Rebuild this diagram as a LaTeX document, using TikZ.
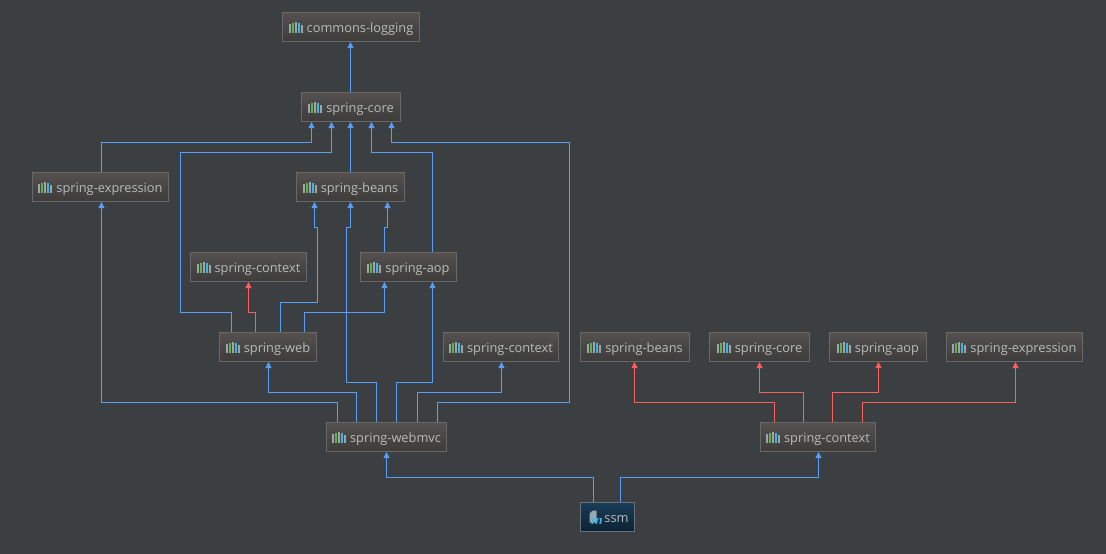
\documentclass[tikz,border=0pt]{standalone}
\usepackage{fontspec}
\setmainfont{Open Sans}
\usetikzlibrary{arrows.meta}
\definecolor{bgc}{HTML}{3C3F41}
\definecolor{lnblue}{HTML}{589DF6}
\definecolor{lnred}{HTML}{FF5E5E}
\definecolor{bordc}{HTML}{686868}
\definecolor{boxtop}{HTML}{54514F}
\definecolor{boxbot}{HTML}{3D3C3B}
\definecolor{txtc}{HTML}{BBBBBB}
\definecolor{igray}{HTML}{9AA7B0}
\definecolor{igreen}{HTML}{62B543}
\definecolor{iblue}{HTML}{40B6E0}
\definecolor{ssmtop}{HTML}{1A3D58}
\definecolor{ssmbot}{HTML}{0B2234}
\definecolor{ssmbord}{HTML}{6A7278}
\newcommand{\libicon}{{\color{igray}\rule{2pt}{9pt}}\hspace{1pt}{\color{igreen}\rule{2pt}{10pt}}\hspace{1pt}{\color{igray}\rule{2pt}{11pt}}\hspace{1pt}{\color{iblue}\rule{2pt}{10pt}}\hspace{1pt}{\color{igray}\rule{2pt}{8pt}}\hspace{4pt}}
\tikzset{
  libbox/.style={draw=bordc, line width=1pt, top color=boxtop, bottom color=boxbot,
    minimum height=29pt, minimum width=#1, inner sep=0pt, text=txtc,
    font=\fontsize{12.8}{14}\selectfont, text height=11pt, text depth=0pt},
  ssmbox/.style={draw=ssmbord, line width=1pt, top color=ssmtop, bottom color=ssmbot,
    minimum height=29pt, minimum width=#1, inner sep=0pt, text=txtc,
    font=\fontsize{12.8}{14}\selectfont, text height=11pt, text depth=0pt},
  bline/.style={draw=lnblue, line width=1pt, -{Triangle[width=6pt,length=6pt]}},
  rline/.style={draw=lnred, line width=1pt, -{Triangle[width=6pt,length=6pt]}}
}
\begin{document}
\begin{tikzpicture}[x=1pt,y=-1pt]
\fill[bgc] (0,0) rectangle (1106,554);
\useasboundingbox (0,0) rectangle (1106,554);
\begin{scope}[shift={(0.5,0.5)}]
% nodes
\node[libbox=137pt] (cl) at (350.5,26.5) {\libicon commons-logging};
\node[libbox=99pt] (core) at (350.5,106.5) {\libicon spring-core};
\node[libbox=136pt] (expr) at (100,186.5) {\libicon spring-expression};
\node[libbox=108pt] (beans) at (350,186.5) {\libicon spring-beans};
\node[libbox=116pt] (ctx1) at (248,266.5) {\libicon spring-context};
\node[libbox=96pt] (aop) at (408,266.5) {\libicon spring-aop};
\node[libbox=97pt] (web) at (267.5,346.5) {\libicon spring-web};
\node[libbox=115pt] (ctx2) at (500.5,346.5) {\libicon spring-context};
\node[libbox=120pt] (webmvc) at (386,436.5) {\libicon spring-webmvc};
\node[libbox=109pt] (beans2) at (634.5,346.5) {\libicon spring-beans};
\node[libbox=100pt] (core2) at (759,346.5) {\libicon spring-core};
\node[libbox=97pt] (aop2) at (877.5,346.5) {\libicon spring-aop};
\node[libbox=136pt] (expr2) at (1014,346.5) {\libicon spring-expression};
\node[libbox=115pt] (ctx3) at (817.5,436.5) {\libicon spring-context};
\node[ssmbox=54pt] (ssm) at (607,516.5) {\hspace{18pt}ssm};
% ssm icon
\fill[igray] (589,522) -- (596,522) -- (596,510) -- (592,510) -- (589,513) -- cycle;
\node[font=\sffamily\bfseries\itshape\fontsize{13}{13}\selectfont, text=iblue, inner sep=0pt, anchor=base west] (ssmm) at (590,524) {m};
% connectors
\draw[bline] (350,0 |- core.north) -- (350,0 |- cl.south);
\draw[bline] (101,0 |- expr.north) |- (311,142) -- (311,0 |- core.south);
\draw[bline] (231,0 |- web.north) |- (180,312) |- (331,152) -- (331,0 |- core.south);
\draw[bline] (350,0 |- beans.north) -- (350,0 |- core.south);
\draw[bline] (432,0 |- aop.north) |- (371,152) -- (371,0 |- core.south);
\draw[bline] (437,0 |- webmvc.north) |- (569,402) |- (391,142) -- (391,0 |- core.south);
\draw[rline] (255,0 |- web.north) |- (248,312) -- (248,0 |- ctx1.south);
\draw[bline] (280,0 |- web.north) |- (317,302) |- (314,227) -- (314,0 |- beans.south);
\draw[bline] (304,0 |- web.north) |- (384,312) -- (384,0 |- aop.south);
\draw[bline] (384,0 |- aop.north) |- (387,227) -- (387,0 |- beans.south);
\draw[bline] (376,0 |- webmvc.north) |- (346,382) |- (350,227) -- (350,0 |- beans.south);
\draw[bline] (396,0 |- webmvc.north) |- (432,382) -- (432,0 |- aop.south);
\draw[bline] (417,0 |- webmvc.north) |- (501,392) -- (501,0 |- ctx2.south);
\draw[bline] (337,0 |- webmvc.north) |- (101,402) -- (101,0 |- expr.south);
\draw[bline] (356,0 |- webmvc.north) |- (268,392) -- (268,0 |- web.south);
\draw[bline] (593,0 |- ssm.north) |- (386,477) -- (386,0 |- webmvc.south);
\draw[bline] (620,0 |- ssm.north) |- (818,477) -- (818,0 |- ctx3.south);
\draw[rline] (774,0 |- ctx3.north) |- (634,402) -- (634,0 |- beans2.south);
\draw[rline] (803,0 |- ctx3.north) |- (759,392) -- (759,0 |- core2.south);
\draw[rline] (832,0 |- ctx3.north) |- (878,392) -- (878,0 |- aop2.south);
\draw[rline] (862,0 |- ctx3.north) |- (1015,402) -- (1015,0 |- expr2.south);
\end{scope}
\end{tikzpicture}
\end{document}
